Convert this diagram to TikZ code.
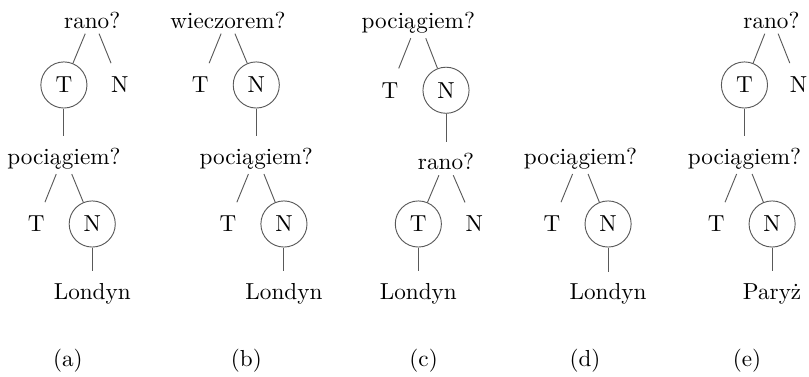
\documentclass[tikz,border=0pt]{standalone}
\usepackage{tikz}
\usetikzlibrary{shapes}

\begin{document}
\begin{tikzpicture}[auto,thin]
  \tikzstyle{every edge}=[draw=black!65]
  \tikzstyle{pytanie}=[anchor=base,inner sep=2pt,text height=10pt]
  \tikzstyle{wybrana}=[circle,minimum size=0.7cm,inner sep=0pt,
                                    draw=black!65]
  \tikzstyle{odpowiedz}=[circle,minimum size=0.7cm,inner sep=0pt]
  \tikzstyle{podpis}=[anchor=base]
  \useasboundingbox (0,0) rectangle (12.28,-5.72);
  %Drzewo (a)
  \node[pytanie]   (q1a) [shift={(1.40,-0.43)}] {rano?};
  \node[wybrana]   (t1a) [shift={(0.97,-1.29)}] {T};
  \node[odpowiedz] (n1a) [shift={(1.82,-1.29)}] {N};
  \node[pytanie]   (q2a) [shift={(0.97,-2.49)}] {pociągiem?};
  \node[odpowiedz] (t2a) [shift={(0.55,-3.40)}] {T};
  \node[wybrana]   (n2a) [shift={(1.40,-3.40)}] {N};
  \node[pytanie]   (wa)  [shift={(1.40,-4.54)}] {Londyn};
  \node[podpis]    (pa)  [shift={(1.03,-5.57)}] {(a)};
    \path (q1a) edge (t1a)
          (q1a) edge (n1a)
          (t1a) edge (q2a)
          (q2a) edge (t2a)
          (q2a) edge (n2a)
          (n2a) edge (wa);
  %Drzewo (b)
  \node[pytanie]   (q1b) [shift={(3.46,-0.43)}] {wieczorem?};
  \node[odpowiedz] (t1b) [shift={(3.04,-1.29)}] {T};
  \node[wybrana]   (n1b) [shift={(3.89,-1.29)}] {N};
  \node[pytanie]   (q2b) [shift={(3.89,-2.49)}] {pociągiem?};
  \node[odpowiedz] (t2b) [shift={(3.46,-3.40)}] {T};
  \node[wybrana]   (n2b) [shift={(4.31,-3.40)}] {N};
  \node[pytanie]   (wb)  [shift={(4.31,-4.54)}] {Londyn};
  \node[podpis]    (pb)  [shift={(3.74,-5.57)}] {(b)};
    \path (q1b) edge (t1b)
          (q1b) edge (n1b)
          (n1b) edge (q2b)
          (q2b) edge (t2b)
          (q2b) edge (n2b)
          (n2b) edge (wb);
  %Drzewo (c)
  \node[pytanie]   (q1c) [shift={(6.35,-0.43)}] {pociągiem?};
  \node[odpowiedz] (t1c) [shift={(5.92,-1.37)}] {T};
  \node[wybrana]   (n1c) [shift={(6.77,-1.37)}] {N};
  \node[pytanie]   (q2c) [shift={(6.77,-2.58)}] {rano?};
  \node[wybrana]   (t2c) [shift={(6.35,-3.40)}] {T};
  \node[odpowiedz] (n2c) [shift={(7.20,-3.40)}] {N};
  \node[pytanie]   (wc)  [shift={(6.35,-4.54)}] {Londyn};
  \node[podpis]    (pc)  [shift={(6.43,-5.57)}] {(c)};
    \path (q1c) edge (t1c)
          (q1c) edge (n1c)
          (n1c) edge (q2c)
          (q2c) edge (t2c)
          (q2c) edge (n2c)
          (t2c) edge (wc);
  %Drzewo (d)
  \node[pytanie]   (q1d) [shift={(8.81,-2.49)}] {pociągiem?};
  \node[odpowiedz] (t1d) [shift={(8.38,-3.40)}] {T};
  \node[wybrana]   (n1d) [shift={(9.23,-3.40)}] {N};
  \node[pytanie]   (wd)  [shift={(9.23,-4.55)}] {Londyn};
  \node[podpis]    (pd)  [shift={(8.88,-5.57)}] {(d)};
    \path (q1d) edge (t1d)
          (q1d) edge (n1d)
          (n1d) edge (wd);
  %Drzewo (e)
  \node[pytanie]   (q1e) [shift={(11.71,-0.43)}] {rano?};
  \node[wybrana]   (t1e) [shift={(11.30,-1.29)}] {T};
  \node[odpowiedz] (n1e) [shift={(12.12,-1.29)}] {N};
  \node[pytanie]   (q2e) [shift={(11.30,-2.49)}] {pociągiem?};
  \node[odpowiedz] (t2e) [shift={(10.87,-3.40)}] {T};
  \node[wybrana]   (n2e) [shift={(11.72,-3.40)}] {N};
  \node[pytanie]   (we)  [shift={(11.72,-4.54)}] {Paryż};
  \node[podpis]    (pe)  [shift={(11.34,-5.57)}] {(e)};
    \path (q1e) edge (t1e)
          (q1e) edge (n1e)
          (t1e) edge (q2e)
          (q2e) edge (t2e)
          (q2e) edge (n2e)
          (n2e) edge (we);
\end{tikzpicture}
\end{document}
